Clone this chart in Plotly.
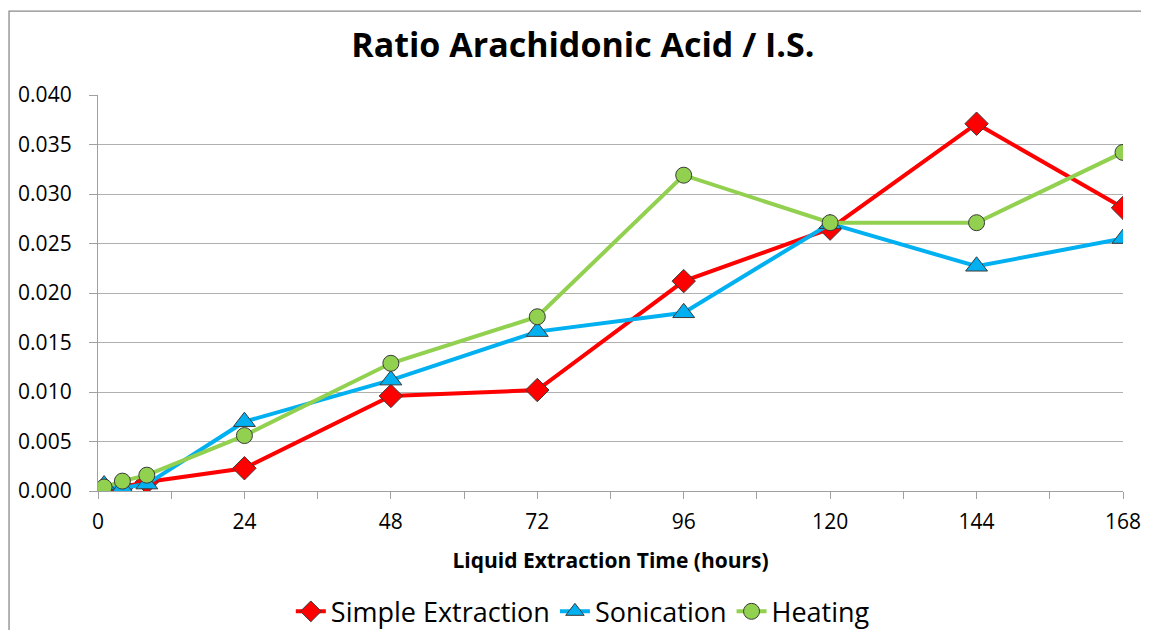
import plotly.graph_objects as go

hours = [1, 4, 8, 24, 48, 72, 96, 120, 144, 168]
simple = [0.0002, 0.0004, 0.0009, 0.0023, 0.0096, 0.0102, 0.0212, 0.0265, 0.0371, 0.0286]
sonication = [0.0006, 0.0003, 0.0007, 0.0070, 0.0112, 0.0161, 0.0180, 0.0270, 0.0227, 0.0255]
heating = [0.0004, 0.0010, 0.0016, 0.0056, 0.0129, 0.0176, 0.0319, 0.0271, 0.0271, 0.0342]

series = [
    ("Simple Extraction", simple, "#FF0000", "diamond", 18),
    ("Sonication", sonication, "#00B0F0", "triangle-up", 19),
    ("Heating", heating, "#92D050", "circle", 16),
]

fig = go.Figure()
for name, vals, col, sym, sz in series:
    fig.add_trace(go.Scatter(
        x=hours, y=vals, name=name, mode="lines+markers",
        line=dict(color=col, width=4),
        marker=dict(symbol=sym, size=sz, color=col, line=dict(color="#3a3a3a", width=1)),
    ))

font = "Open Sans"
# page body has an 8px margin, so the figure is offset by 8px; size chosen to avoid scrollbars
fig.update_layout(
    width=1133, height=622,
    margin=dict(l=90, r=18, t=87, b=139, autoexpand=False),
    paper_bgcolor="white", plot_bgcolor="white",
    font=dict(family=font, color="black"),
    title=dict(text="<b>Ratio Arachidonic Acid / I.S.</b>", xref="paper", x=0.473, xanchor="center",
               yref="container", y=0.94, yanchor="middle", font=dict(size=34, family=font, color="black")),
    xaxis=dict(range=[0, 168], tickvals=[0, 24, 48, 72, 96, 120, 144, 168],
               ticks="outside", ticklen=7, tickcolor="#a0a0a0", ticklabeloverflow="allow",
               minor=dict(dtick=12, tick0=0, ticks="outside", ticklen=7, tickcolor="#a0a0a0", showgrid=False),
               showline=True, linecolor="#a0a0a0", linewidth=1.3, showgrid=False, zeroline=False,
               tickfont=dict(size=21, family=font), ticklabelstandoff=5,
               title=dict(text="<b>Liquid Extraction Time (hours)</b>", font=dict(size=21, family=font), standoff=18)),
    yaxis=dict(range=[0, 0.040], dtick=0.005, tickformat=".3f",
               ticks="outside", ticklen=8, tickcolor="#a0a0a0",
               showline=True, linecolor="#a0a0a0", linewidth=1.3,
               showgrid=True, gridcolor="#b0b0b0", gridwidth=1.3, zeroline=False,
               tickfont=dict(size=21, family=font), ticklabelstandoff=13),
    legend=dict(orientation="h", xref="paper", x=0.473, xanchor="center", y=-0.305, yanchor="middle",
                font=dict(size=27, family=font), itemwidth=30, tracegroupgap=0),
    shapes=[dict(type="rect", xref="paper", yref="paper", x0=-0.0868, x1=1.08, y0=-0.6, y1=1.212,
                 line=dict(color="#8a8a8a", width=1.3), layer="below")],
)

fig.write_html("out.html")
